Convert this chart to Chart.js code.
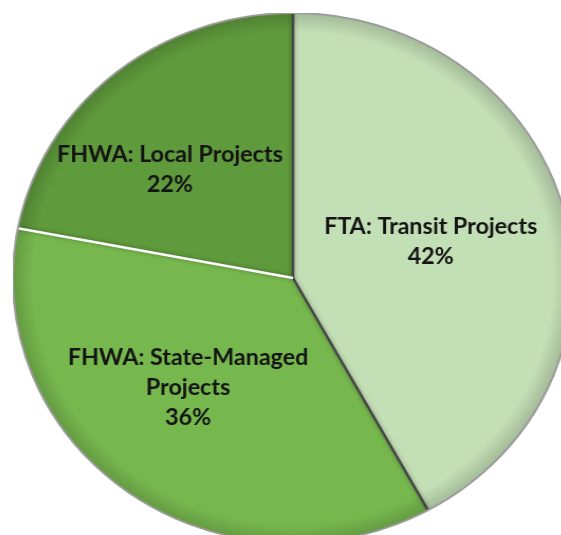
<!DOCTYPE html>
<html>
<head>
<meta charset="utf-8">
<script src="https://cdn.jsdelivr.net/npm/chart.js@4.4.1/dist/chart.umd.min.js"></script>
<style>
  html, body { margin: 0; padding: 0; background: #fff; overflow: hidden; width: 561px; height: 535px; }
  #wrap { position: absolute; left: 28px; top: 13px; width: 530px; height: 530px;
          transform: scaleX(1.057); transform-origin: 265px 265px; }
</style>
</head>
<body>
<div id="wrap"><canvas id="pie" width="530" height="530"></canvas></div>
<script>
// slices, clockwise from 12 o'clock
const sliceLabels = [['FTA: Transit Projects'], ['FHWA: State-Managed', 'Projects'], ['FHWA: Local Projects']];
const sliceValues = [42, 36, 22];
const sliceColors = ['#c3dfb6', '#77b84e', '#5f9a3c'];
const edgeColors  = ['#474747', '#474747', '#ffffff'];   // line drawn at each slice's start angle
const labelShift  = [-1, 6, -7.5];                        // degrees off the mid angle
const labelDist   = [0.51, 0.56, 0.60];                   // fraction of radius

const rad = d => d * Math.PI / 180;

// bevel-ish rim shading, slice separators and the gray outline
const decorPlugin = {
  id: 'decor',
  afterDatasetsDraw(chart) {
    const ctx = chart.ctx;
    const arcs = chart.getDatasetMeta(0).data;
    const { x: cx, y: cy, outerRadius: r } = arcs[0];

    ctx.save();
    ctx.beginPath();
    ctx.arc(cx, cy, r, 0, Math.PI * 2);
    ctx.clip();
    const g = ctx.createRadialGradient(cx, cy, r * 0.93, cx, cy, r);
    g.addColorStop(0, 'rgba(0,0,0,0)');
    g.addColorStop(1, 'rgba(0,0,0,0.16)');
    ctx.fillStyle = g;
    ctx.fillRect(cx - r, cy - r, 2 * r, 2 * r);
    ctx.restore();

    arcs.forEach((a, i) => {
      ctx.save();
      ctx.beginPath();
      ctx.moveTo(cx, cy);
      ctx.lineTo(cx + Math.cos(a.startAngle) * r, cy + Math.sin(a.startAngle) * r);
      ctx.strokeStyle = edgeColors[i];
      ctx.lineWidth = 2.5;
      ctx.shadowColor = 'rgba(0,0,0,0.35)';
      ctx.shadowBlur = 4;
      ctx.stroke();
      ctx.restore();
    });

    ctx.save();
    ctx.beginPath();
    ctx.arc(cx, cy, r, 0, Math.PI * 2);
    ctx.strokeStyle = '#9b9b9b';
    ctx.lineWidth = 2;
    ctx.stroke();
    ctx.restore();
  }
};

const labelPlugin = {
  id: 'sliceText',
  afterDraw(chart) {
    const ctx = chart.ctx;
    const arcs = chart.getDatasetMeta(0).data;
    ctx.save();
    ctx.font = 'bold 22px Lato, "Open Sans", sans-serif';
    ctx.fillStyle = '#141414';
    ctx.textAlign = 'center';
    ctx.textBaseline = 'middle';
    arcs.forEach((a, i) => {
      const mid = (a.startAngle + a.endAngle) / 2 + rad(labelShift[i]);
      const d = a.outerRadius * labelDist[i];
      const x = a.x + Math.cos(mid) * d;
      const y = a.y + Math.sin(mid) * d;
      const lines = [...sliceLabels[i], sliceValues[i] + '%'];
      const lh = 30;
      const y0 = y - (lines.length - 1) * lh / 2;
      lines.forEach((t, k) => ctx.fillText(t, x, y0 + k * lh));
    });
    ctx.restore();
  }
};

new Chart(document.getElementById('pie'), {
  type: 'pie',
  data: {
    labels: sliceLabels.map(l => l.join(' ')),
    datasets: [{
      data: sliceValues,
      backgroundColor: sliceColors,
      borderWidth: 0
    }]
  },
  options: {
    responsive: false,
    devicePixelRatio: 1,
    animation: false,
    layout: { padding: 0 },
    plugins: {
      legend: { display: false },
      tooltip: { enabled: false }
    }
  },
  plugins: [decorPlugin, labelPlugin]
});
</script>
</body>
</html>
